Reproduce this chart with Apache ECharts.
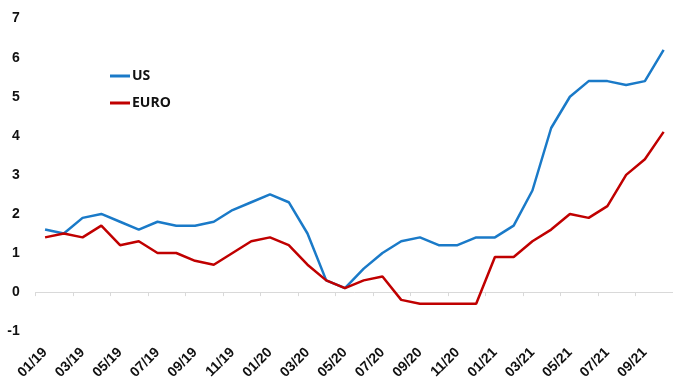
<!DOCTYPE html>
<html><head><meta charset="utf-8">
<script src="https://cdn.jsdelivr.net/npm/echarts@6/dist/echarts.min.js"></script>
<style>html,body{margin:0;padding:0;background:#fff}#c{width:673px;height:382px}</style>
</head><body><div id="c"></div>
<script>
const categories = ["01/19","02/19","03/19","04/19","05/19","06/19","07/19","08/19","09/19","10/19","11/19","12/19",
"01/20","02/20","03/20","04/20","05/20","06/20","07/20","08/20","09/20","10/20","11/20","12/20",
"01/21","02/21","03/21","04/21","05/21","06/21","07/21","08/21","09/21","10/21"];
const usValues = [1.6,1.5,1.9,2.0,1.8,1.6,1.8,1.7,1.7,1.8,2.1,2.3,
2.5,2.3,1.5,0.3,0.1,0.6,1.0,1.3,1.4,1.2,1.2,1.4,
1.4,1.7,2.6,4.2,5.0,5.4,5.4,5.3,5.4,6.2];
const euroValues = [1.4,1.5,1.4,1.7,1.2,1.3,1.0,1.0,0.8,0.7,1.0,1.3,
1.4,1.2,0.7,0.3,0.1,0.3,0.4,-0.2,-0.3,-0.3,-0.3,-0.3,
0.9,0.9,1.3,1.6,2.0,1.9,2.2,3.0,3.4,4.1];
const yTicks = [-1,0,1,2,3,4,5,6,7];

const chart = echarts.init(document.getElementById('c'), null, {renderer:'canvas'});
const font = '"Liberation Sans", Arial, sans-serif';
chart.setOption({
  animation:false,
  backgroundColor:'#fff',
  grid:{left:35.7,right:-3,top:18.6,bottom:49.4,containLabel:false},
  legend:{
    orient:'vertical', left:110, top:68, padding:0, itemWidth:20, itemHeight:3, icon:'rect', itemGap:11,
    textStyle:{fontFamily:'"Open Sans", sans-serif',fontWeight:'bold',fontSize:14,color:'#111',lineHeight:16,padding:[0,0,0,-3]},
    data:['US','EURO']
  },
  xAxis:[{
    type:'category', data:categories, boundaryGap:true,
    axisLine:{onZero:true,lineStyle:{color:'#d9d9d9',width:1}},
    axisTick:{show:true,interval:1,length:4,lineStyle:{color:'#d9d9d9'}},
    axisLabel:{show:false}
  },{
    type:'category', data:categories, boundaryGap:true, position:'bottom',
    axisLine:{show:false,onZero:false}, axisTick:{show:false},
    axisLabel:{interval:1,rotate:45,margin:19,fontFamily:font,fontWeight:'bold',fontSize:14,color:'#111'}
  }],
  yAxis:{
    type:'value', min:yTicks[0], max:yTicks[yTicks.length-1], interval:1,
    axisLine:{show:false}, axisTick:{show:false}, splitLine:{show:false},
    axisLabel:{margin:16,padding:[4,0,0,0],fontFamily:font,fontWeight:'bold',fontSize:14,color:'#111'}
  },
  series:[
    {name:'US',type:'line',data:usValues,xAxisIndex:0,symbol:'none',lineStyle:{color:'#1a7ac8',width:2.5},itemStyle:{color:'#1a7ac8'}},
    {name:'EURO',type:'line',data:euroValues,xAxisIndex:0,symbol:'none',lineStyle:{color:'#c00000',width:2.5},itemStyle:{color:'#c00000'}}
  ]
});
</script></body></html>
